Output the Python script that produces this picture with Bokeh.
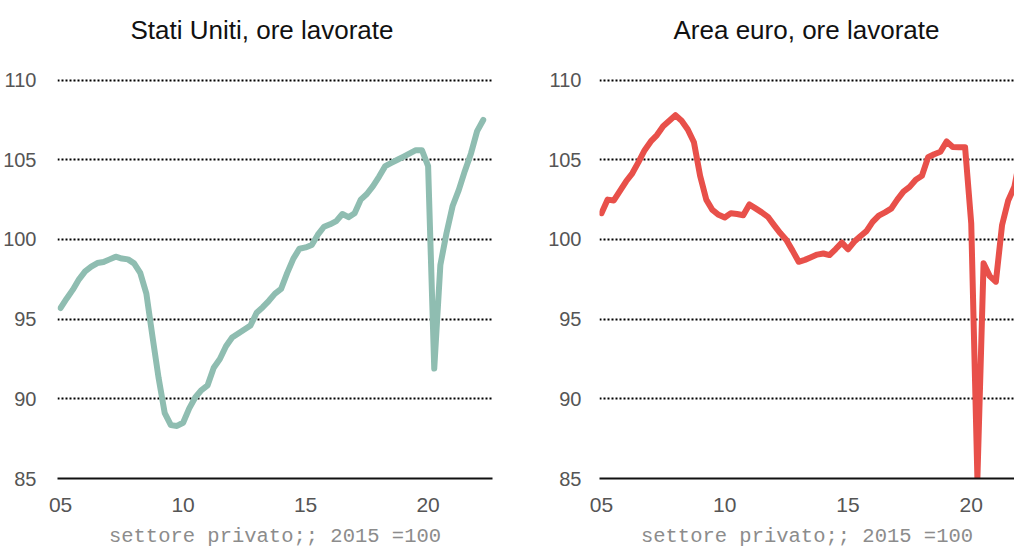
from bokeh.plotting import figure
from bokeh.layouts import row
from bokeh.models import FixedTicker, Title
from bokeh.embed import file_html
from bokeh.resources import INLINE

# ---------------- data (quarterly, 2005Q1 ...) ----------------
quarters_us = [2005 + i / 4 for i in range(70)]  # 2005Q1 .. 2022Q2
us_hours = [
    95.7, 96.3, 96.85, 97.5,      # 2005
    98.0, 98.3, 98.52, 98.58,     # 2006
    98.75, 98.92, 98.8, 98.75,    # 2007
    98.5, 97.9, 96.6, 93.9,       # 2008
    91.3, 89.1, 88.35, 88.3,      # 2009
    88.5, 89.4, 90.1, 90.55,      # 2010
    90.85, 91.95, 92.5, 93.3,     # 2011
    93.85, 94.1, 94.35, 94.6,     # 2012
    95.4, 95.75, 96.15, 96.6,     # 2013
    96.9, 97.9, 98.8, 99.42,      # 2014
    99.5, 99.65, 100.3, 100.8,    # 2015
    100.95, 101.15, 101.6, 101.4, # 2016
    101.65, 102.5, 102.85, 103.35,# 2017
    103.95, 104.6, 104.8, 105.0,  # 2018
    105.2, 105.4, 105.6, 105.6,   # 2019
    104.6, 91.9, 98.4, 100.4,     # 2020
    102.1, 103.1, 104.3, 105.4,   # 2021
    106.8, 107.5,                 # 2022
]

quarters_ea = [2005 + i / 4 for i in range(69)]  # 2005Q1 .. 2022Q1
ea_hours = [
    101.65, 102.5, 102.45, 103.05,  # 2005
    103.65, 104.15, 104.85, 105.6,  # 2006
    106.15, 106.55, 107.1, 107.45,  # 2007
    107.8, 107.45, 106.9, 106.1,    # 2008
    104.0, 102.5, 101.85, 101.55,   # 2009
    101.38, 101.65, 101.6, 101.52,  # 2010
    102.2, 101.95, 101.7, 101.42,   # 2011
    100.9, 100.4, 99.96, 99.3,      # 2012
    98.6, 98.72, 98.88, 99.05,      # 2013
    99.12, 99.02, 99.4, 99.8,       # 2014
    99.38, 99.85, 100.2, 100.52,    # 2015
    101.1, 101.5, 101.7, 101.93,    # 2016
    102.5, 103.0, 103.3, 103.75,    # 2017
    104.0, 105.16, 105.35, 105.5,   # 2018
    106.15, 105.8, 105.78, 105.78,  # 2019
    101.0, 85.0, 98.5, 97.7,        # 2020
    97.35, 100.9, 102.45, 103.3,    # 2021
    105.3,                          # 2022
]

x_ticks = [2005, 2010, 2015, 2020]
x_tick_labels = ["05", "10", "15", "20"]
y_ticks = [85, 90, 95, 100, 105, 110]
titles = ["Stati Uniti, ore lavorate", "Area euro, ore lavorate"]
axis_note = "settore privato;; 2015 =100"
colors = ["#8fbdb1", "#e8504a"]

TICK_FONT = "Liberation Sans"
FRAME_H = 400


def make_panel(title, xs, ys, color, x_range, frame_width, border_left,
               border_right, title_offset, ylabel_standoff):
    p = figure(
        frame_width=frame_width, frame_height=FRAME_H,
        x_range=x_range, y_range=(85, 110.1),
        output_backend="svg", toolbar_location=None,
        min_border_left=border_left, min_border_right=border_right,
        min_border_top=78, min_border_bottom=20,
        background_fill_color="white", border_fill_color="white",
    )
    p.outline_line_color = None

    # spacer between frame and title (nearest the frame)
    p.add_layout(Title(text=" ", text_font_size="10px", standoff=21), "above")

    p.title.text = title
    p.title.align = "left"
    p.title.offset = title_offset
    p.title.standoff = 0
    p.title.text_font = "Liberation Sans"
    p.title.text_font_size = "26px"
    p.title.text_font_style = "normal"
    p.title.text_color = "#111111"

    # y axis
    p.yaxis.ticker = FixedTicker(ticks=y_ticks)
    p.yaxis.axis_line_color = None
    p.yaxis.major_tick_line_color = None
    p.yaxis.minor_tick_line_color = None
    p.yaxis.major_label_standoff = ylabel_standoff
    p.yaxis.major_label_text_font = TICK_FONT
    p.yaxis.major_label_text_font_size = "20px"
    p.yaxis.major_label_text_color = "#555555"

    # x axis
    p.xaxis.ticker = FixedTicker(ticks=x_ticks)
    p.xaxis.major_label_overrides = {t: l for t, l in zip(x_ticks, x_tick_labels)}
    p.xaxis.axis_line_color = "#111111"
    p.xaxis.axis_line_width = 2
    p.xaxis.major_tick_line_color = None
    p.xaxis.minor_tick_line_color = None
    p.xaxis.major_label_standoff = 13
    p.xaxis.major_label_text_font = TICK_FONT
    p.xaxis.major_label_text_font_size = "21px"
    p.xaxis.major_label_text_color = "#555555"
    p.xaxis.axis_label = axis_note
    p.xaxis.axis_label_text_font = "Liberation Mono"
    p.xaxis.axis_label_text_font_size = "20.5px"
    p.xaxis.axis_label_text_font_style = "normal"
    p.xaxis.axis_label_text_color = "#8c8c8c"
    p.xaxis.axis_label_standoff = 10

    # grid
    p.xgrid.grid_line_color = None
    p.ygrid.ticker = FixedTicker(ticks=y_ticks)
    p.ygrid.grid_line_color = "#000000"
    p.ygrid.grid_line_width = 2
    p.ygrid.grid_line_dash = "2 2"

    p.line(xs, ys, line_color=color, line_width=6,
           line_join="round", line_cap="round")
    return p


left = make_panel(titles[0], quarters_us, us_hours, colors[0],
                  (2004.873, 2022.628), 435, 57, 52, 73, 15)
right = make_panel(titles[1], quarters_ea, ea_hours, colors[1],
                   (2004.919, 2021.755), 415, 55, 0, 74, 12)

layout = row(left, right, spacing=0)

open("out.html", "w").write(file_html(layout, INLINE))
